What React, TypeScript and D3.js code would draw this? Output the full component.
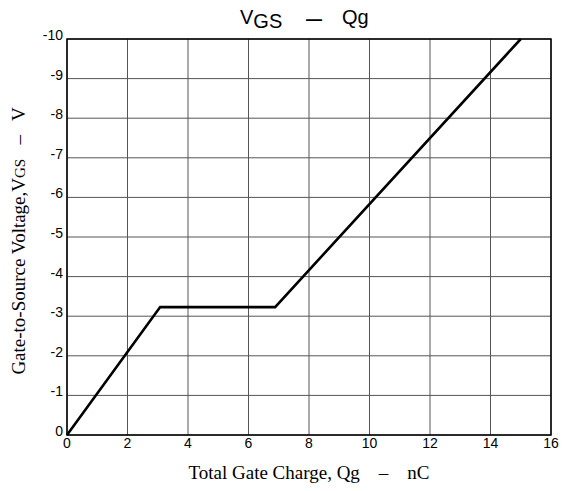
import React, { useEffect, useRef } from 'react'
import * as d3 from 'd3'

// Gate charge curve (Qg in nC, VGS in V)
const qgValues = [0, 3.08, 6.88, 15]
const vgsValues = [0, -3.23, -3.23, -10]
const xTicks = [0, 2, 4, 6, 8, 10, 12, 14, 16]
const yTicks = [0, -1, -2, -3, -4, -5, -6, -7, -8, -9, -10]

const width = 572
const height = 491
const margin = { top: 39, right: 21, bottom: 56, left: 67 }

const App: React.FC = () => {
  const svgRef = useRef<SVGSVGElement>(null)

  useEffect(() => {
    if (!svgRef.current) return
    const svg = d3.select(svgRef.current)
    svg.selectAll('*').remove()

    const w = width - margin.left - margin.right
    const h = height - margin.top - margin.bottom

    const x = d3.scaleLinear().domain([0, 16]).range([0, w])
    const y = d3.scaleLinear().domain([0, -10]).range([h, 0])

    const g = svg.append('g').attr('transform', `translate(${margin.left},${margin.top})`)

    // grid
    g.selectAll('.vgrid')
      .data(xTicks)
      .enter()
      .append('line')
      .attr('x1', (d) => x(d))
      .attr('x2', (d) => x(d))
      .attr('y1', 0)
      .attr('y2', h)
      .attr('stroke', '#555')
      .attr('stroke-width', 1)

    g.selectAll('.hgrid')
      .data(yTicks)
      .enter()
      .append('line')
      .attr('x1', 0)
      .attr('x2', w)
      .attr('y1', (d) => y(d))
      .attr('y2', (d) => y(d))
      .attr('stroke', '#555')
      .attr('stroke-width', 1)

    // frame
    g.append('rect')
      .attr('x', 0)
      .attr('y', 0)
      .attr('width', w)
      .attr('height', h)
      .attr('fill', 'none')
      .attr('stroke', '#000')
      .attr('stroke-width', 1.5)

    // tick labels
    g.selectAll('.xlab')
      .data(xTicks)
      .enter()
      .append('text')
      .attr('x', (d) => x(d))
      .attr('y', h + 13)
      .attr('text-anchor', 'middle')
      .attr('font-family', 'Liberation Sans, Arial, sans-serif')
      .attr('font-size', 14)
      .text((d) => String(d))

    g.selectAll('.ylab')
      .data(yTicks)
      .enter()
      .append('text')
      .attr('x', -4)
      .attr('y', (d) => y(d) + 1)
      .attr('text-anchor', 'end')
      .attr('font-family', 'Liberation Sans, Arial, sans-serif')
      .attr('font-size', 14)
      .text((d) => String(d))

    // curve
    const pts = qgValues.map((q, i) => [q, vgsValues[i]] as [number, number])
    const line = d3
      .line<[number, number]>()
      .x((d) => x(d[0]))
      .y((d) => y(d[1]))
    g.append('path')
      .datum(pts)
      .attr('d', line)
      .attr('fill', 'none')
      .attr('stroke', '#000')
      .attr('stroke-width', 2.6)
      .attr('stroke-linejoin', 'miter')

    // title
    const title = svg
      .append('text')
      .attr('y', 24)
      .attr('font-family', 'Liberation Sans, Arial, sans-serif')
      .attr('font-size', 20)
    title.append('tspan').attr('x', 240).text('V')
    title.append('tspan').attr('dy', 4).text('GS')
    title
      .append('tspan')
      .attr('x', 306)
      .attr('dy', -3)
      .attr('font-size', 16)
      .attr('font-weight', 'bold')
      .text('—')
    title.append('tspan').attr('x', 342).attr('dy', -1).text('Qg')

    // x axis label
    svg
      .append('text')
      .attr('x', margin.left + w / 2)
      .attr('y', 479)
      .attr('text-anchor', 'middle')
      .attr('font-family', 'Liberation Serif, Times New Roman, serif')
      .attr('font-size', 19)
      .style('white-space', 'pre')
      .text('Total Gate Charge, Qg    –    nC')

    // y axis label
    const yl = svg
      .append('text')
      .attr('transform', `translate(25,${margin.top + h / 2 + 4}) rotate(-90)`)
      .attr('text-anchor', 'middle')
      .attr('font-family', 'Liberation Serif, Times New Roman, serif')
      .attr('font-size', 19)
      .style('white-space', 'pre')
    yl.append('tspan').text('Gate-to-Source Voltage,V')
    yl.append('tspan').attr('font-size', 15).text('GS')
    yl.append('tspan').text('   –   V')
  }, [])

  return (
    <svg
      ref={svgRef}
      width={width}
      height={height}
      style={{ position: 'absolute', left: 0, top: 0, background: '#fff' }}
    />
  )
}

export default App
